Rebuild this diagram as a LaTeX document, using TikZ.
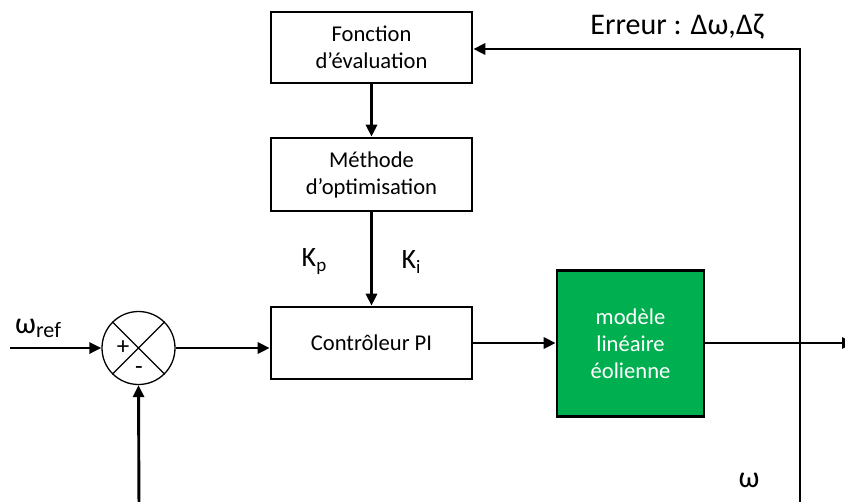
\documentclass[tikz,border=0pt]{standalone}
\usepackage{fontspec}
\setmainfont{Carlito}
\usetikzlibrary{arrows.meta}
\definecolor{exgreen}{HTML}{00B050}
\begin{document}
\begin{tikzpicture}[x=1pt,y=-1pt,
  blk/.style={draw=black,line width=2.6pt,fill=white,align=center,inner sep=0pt,
    font=\fontsize{22.6}{27}\selectfont},
  conn/.style={line width=2.9pt,-{Triangle[length=12pt,width=11pt]}},
  lbl/.style={inner sep=0pt,font=\fontsize{30}{32}\selectfont}]
\useasboundingbox (0,0) rectangle (845,501);
\node[blk,minimum width=201pt,minimum height=71pt] (fonc) at (371.5,47.5) {Fonction\\d’évaluation};
\node[blk,minimum width=201pt,minimum height=73pt] (meth) at (371.5,174.5) {Méthode\\d’optimisation};
\node[blk,minimum width=201pt,minimum height=72pt] (ctrl) at (371.5,343) {Contrôleur PI};
\node[blk,fill=exgreen,text=white,minimum width=147pt,minimum height=146pt] (mod) at (630.5,343.5) {modèle\\linéaire\\éolienne};
\node[draw=black,line width=1.3pt,circle,minimum size=73pt,inner sep=0pt] (sum) at (138.5,348) {};
\draw[line width=1.3pt] (sum.north west) -- (sum.south east) (sum.north east) -- (sum.south west);
\node[inner sep=0pt,font=\fontsize{25}{25}\selectfont] (plus) at (123,348) {+};
\node[inner sep=0pt,font=\fontsize{25}{25}\selectfont] (minus) at (139,371) {-};
\coordinate (in) at (10,348);
\coordinate (out) at (854,343);
\coordinate (junc) at (800,343);
\coordinate (tr) at (800,49);
\coordinate (br) at (800,512);
\coordinate (bl) at (139,512);
\draw[conn] (in) -- (sum.west);
\draw[conn] (sum.east) -- (ctrl.west |- sum.east);
\draw[conn] (fonc) -- (meth);
\draw[conn] (meth) -- (ctrl);
\draw[conn] (ctrl.east) -- (mod.west |- ctrl.east);
\draw[conn] (mod.east |- ctrl.east) -- (out);
\draw[conn] (br) -- (tr) -- (fonc.east |- tr);
\draw[conn] (bl) -- (sum.south);
\node[lbl,anchor=base west] (wref) at (15,333) {ω\fontsize{22}{22}\selectfont\raisebox{-4pt}{ref}};
\node[lbl,font=\fontsize{28}{30}\selectfont] (kp) at (314,262) {K\raisebox{-5pt}{\fontsize{19}{19}\selectfont p}};
\node[lbl,font=\fontsize{28}{30}\selectfont] (ki) at (411,262) {K\raisebox{-5pt}{\fontsize{19}{19}\selectfont i}};
\node[lbl] (err) at (677,27) {Erreur : Δω,Δζ};
\node[lbl] (om) at (749,480) {ω};
\end{tikzpicture}
\end{document}
